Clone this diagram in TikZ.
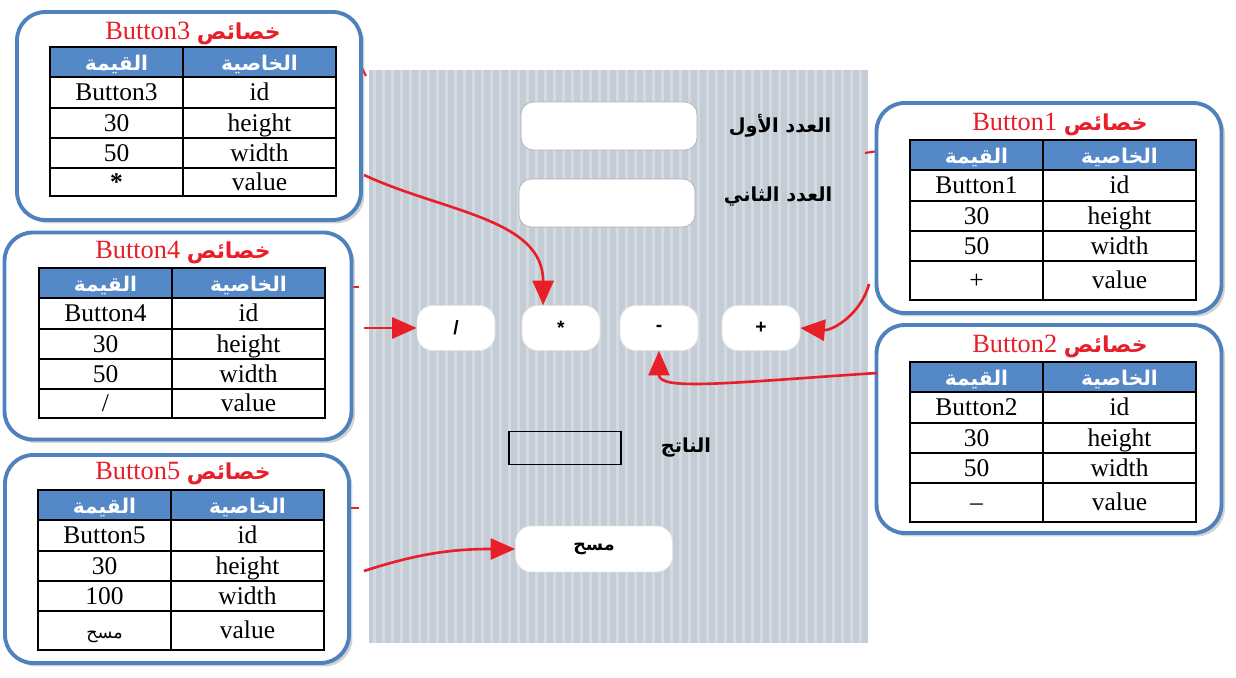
\documentclass[tikz,border=0pt]{standalone}
\usepackage{fontspec}
\setmainfont{Liberation Serif}
\setsansfont{Liberation Sans}
\newfontfamily\arabicfont[Script=Arabic]{DejaVu Sans}
\TeXXeTstate=1
\usetikzlibrary{arrows.meta,shadows}
\definecolor{boxblue}{RGB}{79,129,189}
\definecolor{headblue}{RGB}{84,136,199}
\definecolor{linkred}{RGB}{232,30,40}
\definecolor{panelgray}{RGB}{196,204,214}
\definecolor{stripegray}{RGB}{212,218,226}

\tikzset{
	propbox/.style={draw=boxblue,line width=2.2pt,rounded corners=16pt,fill=white,
		drop shadow={shadow xshift=2pt,shadow yshift=-2pt,opacity=0.35}},
	boxtitle/.style={text=linkred,font=\fontsize{15}{17}\selectfont},
	tblhead/.style={draw=black,line width=0.9pt,fill=headblue},
	tblcell/.style={draw=black,line width=0.9pt,fill=white},
	celltxt/.style={text height=11.5pt,text depth=2pt},
	headtxt/.style={text=white,font=\arabicfont\bfseries\fontsize{11.5}{12}\selectfont},
	field/.style={draw=gray!60,fill=white,rounded corners=7pt,minimum width=3.52cm,minimum height=0.96cm},
	btn/.style={draw=gray!20,fill=white,rounded corners=9pt,minimum width=1.56cm,minimum height=0.9cm,
		font=\sffamily\bfseries\fontsize{11}{12}\selectfont},
	lbl/.style={font=\arabicfont\bfseries\fontsize{11}{13}\selectfont},
	link/.style={draw=linkred,line width=1.5pt,-{Triangle[length=14pt,width=12pt]}},
	stub/.style={draw=linkred,line width=1.2pt}
}

\newcommand\titlear{{\arabicfont\bfseries\fontsize{12.5}{14}\selectfont\beginR خصائص\endR}}
% table of one button: x, y, last row, id, width, value
\newcommand\proptable[6]{%
	\begin{scope}[shift={(#1,#2)},font=\fontsize{14.5}{16}\selectfont,every node/.style={celltxt}]
	\draw[tblhead] (0,0) rectangle node[headtxt] {\beginR القيمة\endR} (133,30);
	\draw[tblhead] (133,0) rectangle node[headtxt] {\beginR الخاصية\endR} (286,30);
	\draw[tblcell] (0,30) rectangle node {#4} (133,61);
	\draw[tblcell] (133,30) rectangle node {id} (286,61);
	\draw[tblcell] (0,61) rectangle node {30} (133,91);
	\draw[tblcell] (133,61) rectangle node {height} (286,91);
	\draw[tblcell] (0,91) rectangle node {#5} (133,121);
	\draw[tblcell] (133,91) rectangle node {width} (286,121);
	\draw[tblcell] (0,121) rectangle node {#6} (133,121+#3);
	\draw[tblcell] (133,121) rectangle node {value} (286,121+#3);
	\end{scope}}

\begin{document}
\begin{tikzpicture}[x=0.02cm,y=-0.02cm]
	\useasboundingbox (0,0) rectangle (1236,678);
	% the form
	\fill[panelgray] (369,70) rectangle (868,643);
	\foreach \sx in {373,382,...,862}
		\fill[stripegray] (\sx,70) rectangle (\sx+3,643);
	\node[field] (first) at (609,126) {};
	\node[field] (second) at (607,203) {};
	\node[lbl] (firstlbl) at (780,126) {\beginR العدد الأول\endR};
	\node[lbl] (secondlbl) at (778,197) {\beginR العدد الثاني\endR};
	\node[btn] (bdiv) at (456,328) {/};
	\node[btn] (bmul) at (561,328) {*};
	\node[btn] (bsub) at (659,328) {-};
	\node[btn] (badd) at (761,328) {+};
	\node[draw,line width=0.8pt,minimum width=2.24cm,minimum height=0.66cm] (result) at (565,448) {};
	\node[lbl] (resultlbl) at (686,448) {\beginR الناتج\endR};
	\node[btn,minimum width=3.14cm,minimum height=0.92cm,font=\arabicfont\bfseries\fontsize{10}{12}\selectfont] (bclr) at (594,549) {\beginR مسح\endR};

	\draw[stub] (357,58) -- (366,76);
	\draw[stub] (865,153) -- (878,151);
	\draw[stub] (350,287) -- (359,287);
	\draw[stub] (350,508) -- (359,508);

	% property boxes
	\node[propbox,minimum width=6.88cm,minimum height=4.16cm] (box3) at (189,116) {};
	\node[boxtitle] (title3) at (193,33) {Button3 \titlear};
	\proptable{50}{47}{28}{Button3}{50}{\textbf{*}}
	\node[propbox,minimum width=6.94cm,minimum height=4.14cm] (box4) at (178,336) {};
	\node[boxtitle] (title4) at (183,253) {Button4 \titlear};
	\proptable{39}{268}{29}{Button4}{50}{/}
	\node[propbox,minimum width=6.88cm,minimum height=4.16cm] (box5) at (177,559) {};
	\node[boxtitle] (title5) at (183,474) {Button5 \titlear};
	\proptable{38}{490}{39}{Button5}{100}{\arabicfont\fontsize{10}{12}\selectfont\beginR مسح\endR}
	\node[propbox,minimum width=6.9cm,minimum height=4.2cm] (box1) at (1049,208) {};
	\node[boxtitle] (title1) at (1060,124) {Button1 \titlear};
	\proptable{910}{140}{39}{Button1}{50}{+}
	\node[propbox,minimum width=6.9cm,minimum height=4.16cm] (box2) at (1049,429) {};
	\node[boxtitle] (title2) at (1060,346) {Button2 \titlear};
	\proptable{910}{362}{39}{Button2}{50}{\textendash}

	% arrows to the buttons
	\coordinate (from3) at (364,175);
	\coordinate (from4) at (364,328);
	\coordinate (from5) at (364,571);
	\coordinate (from1) at (869,284);
	\coordinate (from2) at (877,373);
	\draw[link] (from3) to[out=-25,in=90] (bmul.128);
	\draw[link] (from4) -- (bdiv.west);
	\draw[link] (from5) to[out=18,in=180] (bclr.west);
	\draw[link] (from1) to[out=-105,in=-5] (badd.east);
	\draw[link] (from2) .. controls +(-150,10) and +(0,40) .. (bsub.south);
\end{tikzpicture}
\end{document}
